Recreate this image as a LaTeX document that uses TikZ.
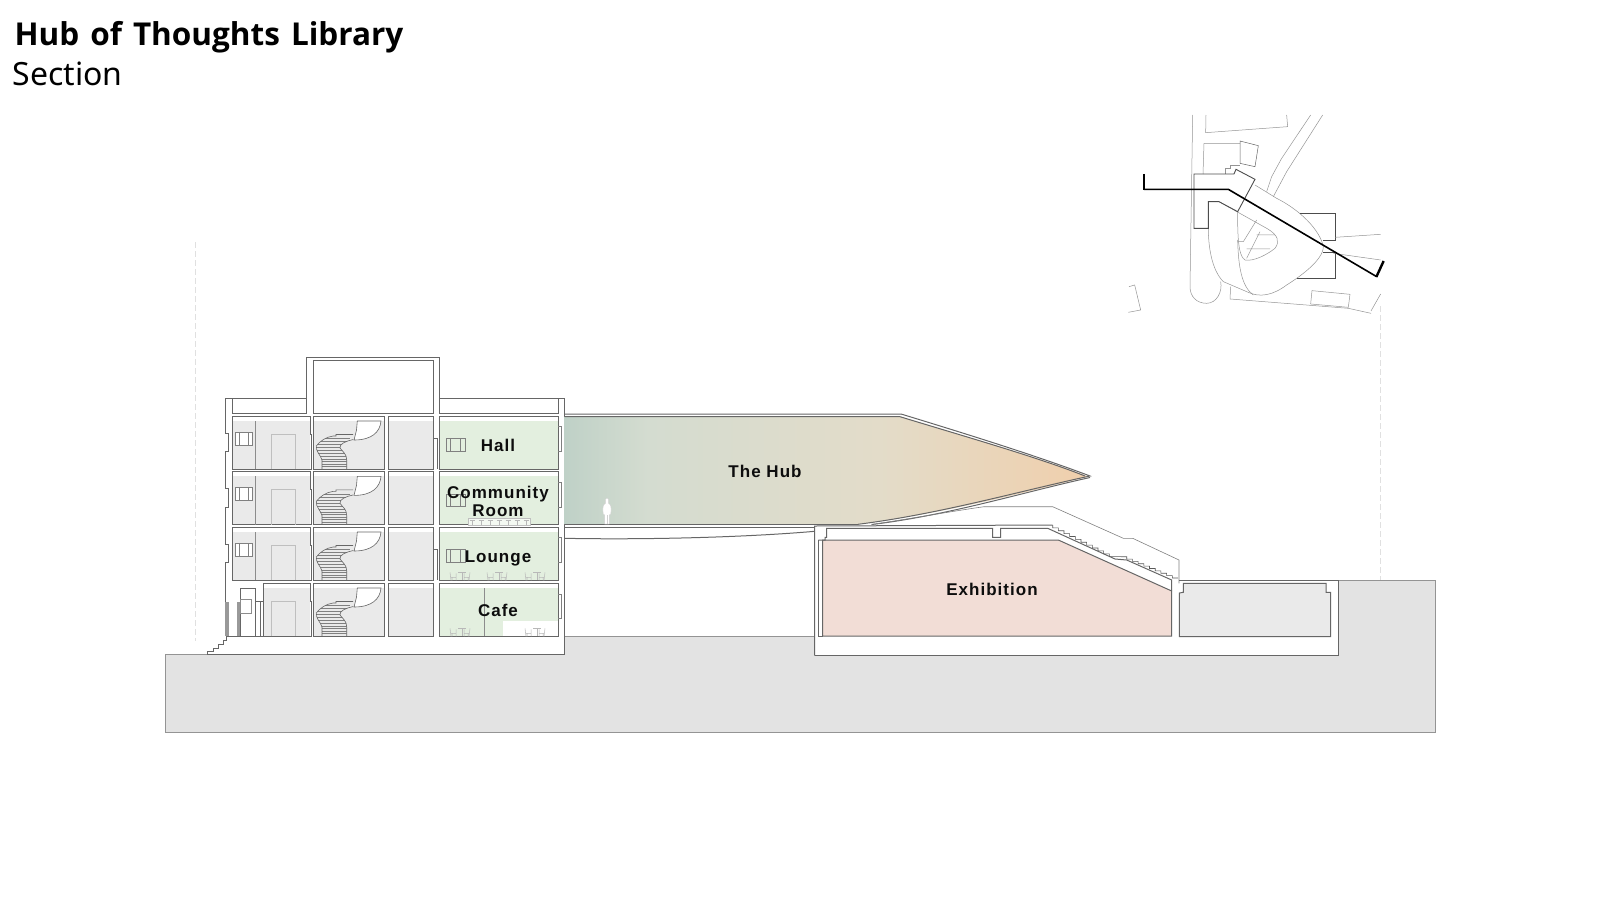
\documentclass[tikz,border=0pt]{standalone}
\usepackage{fontspec}
\setmainfont{Noto Sans}
\newfontfamily\ttlf[WordSpace=1.35]{Open Sans}
\newfontfamily\lblf[LetterSpace=6]{Liberation Sans}
\definecolor{wallc}{HTML}{666666}
\definecolor{grayroom}{HTML}{EAEAEA}
\definecolor{greenroom}{HTML}{E3EFDF}
\definecolor{pinkroom}{HTML}{F2DDD6}
\definecolor{groundc}{HTML}{E3E3E3}
\definecolor{hubA}{HTML}{BFD1C7}
\definecolor{hubB}{HTML}{D4DCD0}
\definecolor{hubC}{HTML}{E3DCC9}
\definecolor{hubD}{HTML}{F0CFAC}
\pgfdeclarehorizontalshading{hubshade}{100bp}{color(0bp)=(hubA);color(25bp)=(hubA);color(33bp)=(hubB);color(55bp)=(hubC);color(75bp)=(hubD);color(100bp)=(hubD)}
\tikzset{
 wall/.style={draw=wallc,line width=1pt,line join=miter},
 thin wall/.style={draw=black!45,line width=0.6pt},
 faint/.style={draw=black!22,line width=0.5pt},
 chairline/.style={draw=black!28,line width=0.5pt},
 keythin/.style={draw=black!42,line width=0.5pt},
 keydark/.style={draw=black!70,line width=0.9pt},
 keycut/.style={draw=black,line width=1.6pt},
 lbl/.style={font=\lblf\bfseries\fontsize{17}{20}\selectfont,text=black!95,inner sep=0pt,align=center},
}
\newcommand{\roomset}{%
 \fill[grayroom] (313.7,421) rectangle (384.3,469.3);
 \draw[wall] (313.7,416.3) rectangle (384.3,469.3);
 \begin{scope}
  \clip (322,469.3) -- (322,460) .. controls (320,454) and (316,452) .. (316.3,446) .. controls (320,441) and (326,437) .. (333,436) -- (353,434.5) -- (353.3,439.5) .. controls (346,441) and (339,444) .. (340,448) .. controls (343,452) and (346.7,454) .. (346.7,460) -- (346.7,469.3) -- cycle;
  \foreach \yy in {438.5,441.5,444.5,447.5,450.5,453.5,456.5,459,461.5,464,466.5} \draw[draw=black!50,line width=0.45pt] (310,\yy) -- (350,\yy);
 \end{scope}
 \draw[draw=black!60,line width=0.6pt] (322,469.3) -- (322,460) .. controls (320,454) and (316,452) .. (316.3,446) .. controls (320,441) and (326,437) .. (333,436) -- (336,436) -- (336,434.5) -- (353,434.5);
 \draw[draw=black!60,line width=0.6pt] (353.3,439.5) .. controls (346,441) and (339,444) .. (340,448) .. controls (343,452) and (346.7,454) .. (346.7,460) -- (346.7,469.3);
 \filldraw[fill=white,draw=black!60,line width=0.6pt] (357.3,421) -- (381,421) .. controls (380,432) and (372,440) .. (354,440) -- (356.5,430) -- cycle;
 \fill[grayroom] (388.7,421) rectangle (433.7,469.3);
 \draw[wall] (388.7,416.3) rectangle (433.7,469.3);
 \fill[greenroom] (439.3,421) rectangle (558.3,469.3);
 \draw[wall] (439.3,469.3) -- (439.3,416.3) -- (558.3,416.3) -- (558.3,469.3) -- cycle;
}
\newcommand{\roomA}{%
 \fill[grayroom] (232.3,421) rectangle (310.3,469.3);
 \draw[wall] (232.3,416.3) -- (310.3,416.3) -- (310.3,434) -- (311.7,434) -- (311.7,469.3) -- (232.3,469.3) -- cycle;
 \draw[thin wall] (255.3,421) -- (255.3,469.3);
 \draw[draw=black!25,line width=0.5pt] (271.3,469.3) -- (271.3,434.3) -- (295.7,434.3) -- (295.7,469.3);
 \filldraw[fill=white,draw=black!50,line width=0.5pt] (235,432.3) rectangle (252.7,445);
 \draw[draw=black!50,line width=0.5pt] (239.3,432.3) -- (239.3,445) (248.7,432.3) -- (248.7,445);
}
\newcommand{\winD}{%
 \draw[draw=black!50,line width=0.5pt] (446.3,438.7) rectangle (465,451);
 \draw[draw=black!50,line width=0.5pt] (450.7,438.7) -- (450.7,451) (460.3,438.7) -- (460.3,451);
}
\newcommand{\chairs}[2]{%
 \begin{scope}[shift={(#1,#2)}]
 \draw[chairline] (0,-8) -- (1,0) (1,-3) -- (6,-3) (6,-7) -- (6,0) (2,-3) -- (2,0);
 \draw[chairline] (8,-8) -- (16,-8) (12,-8) -- (12,0);
 \draw[chairline] (14,-7) -- (14,0) (14,-3) -- (19,-3) (20,-8) -- (19,0) (18,-3) -- (18,0);
 \end{scope}
}
\begin{document}
\begin{tikzpicture}[x=1pt,y=-1pt]
\useasboundingbox (0,0) rectangle (1600,900);
\draw[draw=black!12,line width=0.6pt,dash pattern=on 6pt off 3pt] (195.5,242) -- (195.5,641);
\draw[draw=black!12,line width=0.6pt,dash pattern=on 6pt off 3pt] (1380.6,306) -- (1380.6,580);
\filldraw[fill=groundc,draw=black!42,line width=0.8pt] (165.3,654.5) -- (564.5,654.5) -- (564.5,636.5) -- (814.7,636.5) -- (814.7,655) -- (1338.3,655) -- (1338.3,580.7) -- (1435.7,580.7) -- (1435.7,732.7) -- (165.3,732.7) -- cycle;
\filldraw[fill=white,draw=none] (225,398) -- (306,398) -- (306,357) -- (439,357) -- (439,398) -- (564.5,398) -- (564.5,654.5) -- (207,654.5) -- (225,620) -- cycle;
\filldraw[fill=white,draw=none] (814.7,526) -- (1052.7,525) -- (1178,578) -- (1338.3,580.7) -- (1338.3,655) -- (814.7,655) -- cycle;
\draw[wall] (225,601.7) -- (225,562.7) -- (228,562.7) -- (228,544) -- (225,544) -- (225,507) -- (228,507) -- (228,488.4) -- (225,488.4) -- (225,451.7) -- (228,451.7) -- (228,433) -- (225,433) -- (225,398) -- (306,398) -- (306,357) -- (439,357) -- (439,398) -- (564.5,398) -- (564.5,654.5) -- (207,654.5) -- (207,651.5) -- (213,651.5) -- (213,648) -- (218,648) -- (218,644) -- (223,644) -- (223,640) -- (226.7,640) -- (226.7,636.3) -- (229,636.3);
\draw[wall] (232.3,398) -- (232.3,413.7) -- (306,413.7) -- (306,398);
\draw[wall] (313.7,360.3) rectangle (433.7,413.7);
\draw[wall] (439,398) -- (439,413.7) -- (558.3,413.7) -- (558.3,398);
\foreach \d in {0,55.4,111,167}{
 \begin{scope}[shift={(0,\d)}]
  \roomset
 \end{scope}
}
\foreach \d in {0,55.4,111}{
 \begin{scope}[shift={(0,\d)}]
  \roomA
  \winD
  \draw[draw=black!50,line width=0.5pt] (558.3,426.7) -- (561,426.7) -- (561,451.7) -- (558.3,451.7);
 \end{scope}
}
\draw[draw=black!50,line width=0.5pt] (558.3,594) -- (561,594) -- (561,618) -- (558.3,618);
\draw[wall] (433.7,438.7) -- (437,438.7) -- (437,469.3);
\draw[wall] (433.7,549.7) -- (437,549.7) -- (437,580.3);
\fill[grayroom] (263.3,588) rectangle (310.3,636.3);
\draw[wall] (263.3,583.3) -- (310.3,583.3) -- (310.3,601) -- (311.7,601) -- (311.7,636.3) -- (263.3,636.3) -- cycle;
\draw[draw=black!25,line width=0.5pt] (271.3,636.3) -- (271.3,601.3) -- (295.7,601.3) -- (295.7,636.3);
\fill[black!40] (225.3,601.7) rectangle (229,636.3);
\fill[black!40] (236.7,601.7) rectangle (240.7,636.3);
\draw[wall] (240,636.3) -- (240,588.3) -- (255.7,588.3) -- (255.7,601.7) -- (263.3,601.7);
\draw[thin wall] (240,599.3) rectangle (251,613.3);
\draw[wall] (255.7,601.7) -- (255.7,636.3);
\draw[wall] (260,601.7) -- (260,636.3);
\draw[wall] (229,636.3) -- (263.3,636.3);
\fill[white] (502.7,620.7) rectangle (558.3,636);
\draw[thin wall] (484.3,588) -- (484.3,636.3);
\draw[wall] (439.3,636.3) -- (558.3,636.3);
\filldraw[fill=white!60!greenroom,draw=black!25,line width=0.4pt] (468,518) rectangle (530,524.7);
\foreach \xx in {472,481,490,499,508,517,526} \draw[draw=black!28,line width=0.4pt] (\xx-2.5,520) -- (\xx+2.5,520) (\xx,520) -- (\xx,524.7);
\chairs{450}{580.3}\chairs{487}{580.3}\chairs{525}{580.3}
\chairs{450}{636.3}\chairs{525}{636.3}
\shade[shading=hubshade] (564.7,416.7) -- (901,416.7) .. controls (970,438) and (1040,458) .. (1088,476.5) .. controls (1020,494) and (940,514) .. (858,524.3) -- (564.7,524.3) -- cycle;
\draw[wall] (564.5,414) -- (901,414) .. controls (970,435) and (1040,457) .. (1090,476) .. controls (1020,491) and (940,514) .. (858,524.3);
\draw[wall] (564.7,416.7) -- (900,416.7) .. controls (970,438) and (1040,458) .. (1085,476);
\draw[wall] (564.7,524.3) -- (858,524.3);
\draw[wall] (564.5,527.3) -- (814.7,527.3);
\draw[wall] (564.5,538.3) .. controls (650,540) and (750,537) .. (814.7,531.3);
\draw[wall] (871.7,524.5) .. controls (950,515) and (1020,493) .. (1090,477.5);
\filldraw[fill=white,draw=black!18,line width=0.4pt] (604.6,524) -- (604.6,515) -- (603.3,514) .. controls (602.6,510) and (602.8,506) .. (604,504.5) -- (605.5,503.5) .. controls (605,500) and (605.5,497.8) .. (607,497.8) .. controls (608.5,497.8) and (609,500) .. (608.5,503.5) -- (610,504.5) .. controls (611.2,506) and (611.4,510) .. (610.7,514) -- (609.4,515) -- (609.4,524) -- cycle;
\draw[draw=black!18,line width=0.4pt] (607,515) -- (607,524);
\filldraw[fill=pinkroom,wall] (822.7,540) -- (1058.3,540) -- (1171.7,591) -- (1171.7,636) -- (822.7,636) -- cycle;
\draw[wall] (814.7,655) -- (814.7,526) -- (1052.7,525);
\draw[wall] (818.3,540) -- (818.3,636) -- (822.7,636);
\draw[wall] (818.3,540) -- (825,540) -- (825,537.3) -- (826.7,537.3) -- (826.7,528.3) -- (992.7,528.3) -- (992.7,537.3) -- (1000.7,537.3) -- (1000.7,528.3) -- (1047.7,528.3) -- (1115,559) -- (1126.7,560) -- (1171.7,580) -- (1171.7,591);
\draw[thin wall,draw=black!65] (1052.7,525) \foreach \i in {1,...,11}{ -- ++(0,2.88) -- ++(5.66,0)} -- (1126.7,556.7) \foreach \i in {1,...,9}{ -- ++(0,2.36) -- ++(5.7,0)};
\draw[draw=black!50,line width=0.6pt] (984,506.7) -- (1052.7,506.7) -- (1123.3,538.3) -- (1132.7,538.3) -- (1179,560) -- (1179,583.3);
\draw[draw=black!50,line width=0.6pt] (871.7,524.5) .. controls (920,517) and (960,510) .. (984,506.7);
\draw[wall] (1179,580.7) -- (1338.3,580.7) -- (1338.3,655) -- (814.7,655);
\filldraw[fill=grayroom,wall] (1183.3,583.3) -- (1183.3,592.3) -- (1179.3,593) -- (1179.3,636.7) -- (1330.7,636.7) -- (1330.7,592.3) -- (1326,592.3) -- (1326,583.3) -- cycle;
\begin{scope}[shift={(1100,100)},x=0.3333pt,y=-0.3333pt]
\draw[keythin] (278,45) -- (270,560) .. controls (270,590) and (290,610) .. (320,610) .. controls (350,610) and (368,575) .. (362,545);
\draw[keythin] (318,45) -- (317,98) -- (563,80) -- (560,45);
\draw[keythin] (309,222) -- (312,130) -- (420,130);
\draw[keythin,draw=black!60] (420,123) -- (475,137) -- (465,200) -- (420,190) -- cycle;
\draw[keythin] (632,45) -- (545,175) -- (515,230) -- (500,275);
\draw[keythin] (668,45) -- (560,215) -- (520,290);
\draw[keythin] (375,222) -- (375,205) -- (392,205) -- (392,195) -- (420,195);
\draw[keythin] (465,255) -- (530,295) .. controls (600,330) and (660,390) .. (670,440) .. controls (670,480) and (600,530) .. (560,555) .. controls (520,585) and (480,595) .. (440,575) -- (370,545) .. controls (335,510) and (325,440) .. (325,385);
\draw[keythin] (357,305) -- (500,385) .. controls (535,405) and (540,425) .. (525,445) .. controls (500,465) and (460,485) .. (435,480) .. controls (420,470) and (412,440) .. (413,335);
\draw[keythin] (413,420) .. controls (415,500) and (425,560) .. (460,585);
\draw[keythin] (470,405) -- (525,405) (440,447) -- (510,447) (415,425) -- (430,425) -- (470,360) (440,475) -- (480,395);
\draw[keydark] (600,340) -- (706,340) -- (706,420) -- (670,420);
\draw[keydark] (670,457) -- (706,457) -- (706,536) -- (590,536);
\draw[keythin] (706,412) -- (842,403);
\draw[keythin] (700,460) -- (842,480);
\draw[keythin] (392,560) -- (390,597) -- (745,625) -- (813,640);
\draw[keythin] (636,572) -- (750,583) -- (745,622) -- (632,612) -- cycle;
\draw[keythin] (813,633) -- (842,582);
\draw[keythin] (87,560) -- (104,555) -- (122,630) -- (85,637);
\draw[keydark] (413,335) -- (465,238) -- (408,208) -- (402,222) -- (282,222) -- (282,385) -- (325,385) -- (325,305) -- (357,305) -- (413,335);
\draw[keycut] (132,268) -- (385,268) -- (830,530);
\draw[keycut,line width=2.6pt] (132,222) -- (132,269);
\draw[keycut,line width=2.4pt] (829,531) -- (851,483);
\end{scope}
\node[lbl] (hall) at (498,445) {Hall};
\node[lbl] (comm) at (498,494.5) {Community};
\node[lbl] (room) at (498,510.5) {Room};
\node[lbl] (lounge) at (498,558) {Lounge};
\node[lbl] (cafe) at (498,610) {Cafe};
\node[lbl] (hub) at (765,471) {The Hub};
\node[lbl] (exh) at (992,589.5) {Exhibition};
\node[anchor=base west,inner sep=0pt,font=\ttlf\bfseries\fontsize{31.5}{38}\selectfont] (title) at (14.3,45.5) {Hub of Thoughts Library};
\node[anchor=base west,inner sep=0pt,font=\fontsize{32}{38}\selectfont] (sub) at (12.5,85) {Section};
\end{tikzpicture}
\end{document}
